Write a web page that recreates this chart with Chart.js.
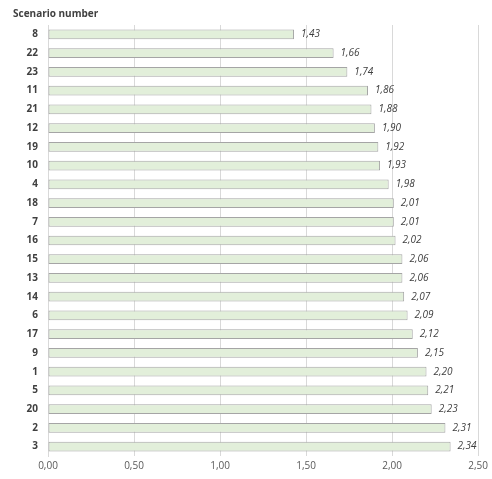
<!DOCTYPE html>
<html><head><meta charset="utf-8">
<script src="https://cdn.jsdelivr.net/npm/chart.js@4.4.0/dist/chart.umd.min.js"></script>
<style>html,body{margin:0;padding:0;background:#fff}#wrap{width:492px;height:479px;position:relative}</style>
</head><body><div id="wrap"><canvas id="c" width="492" height="479"></canvas></div>
<script>
const scenarios = ['8','22','23','11','21','12','19','10','4','18','7','16','15','13','14','6','17','9','1','5','20','2','3'];
const values = [1.43,1.66,1.74,1.86,1.88,1.90,1.92,1.93,1.98,2.01,2.01,2.02,2.06,2.06,2.07,2.09,2.12,2.15,2.20,2.21,2.23,2.31,2.34];
const axisTitle = 'Scenario number';
const xMin = 0, xMax = 2.5, xStep = 0.5;
const fmt = v => v.toFixed(2).replace('.', ',');
const FONT = "'Open Sans', 'Liberation Sans', sans-serif";

const labelPlugin = {
  id: 'labels',
  afterDatasetsDraw(chart) {
    const ctx = chart.ctx;
    const meta = chart.getDatasetMeta(0);
    ctx.save();
    ctx.font = "italic 10px " + FONT;
    ctx.fillStyle = '#404040';
    ctx.textBaseline = 'middle';
    ctx.textAlign = 'left';
    meta.data.forEach((bar, i) => {
      ctx.fillText(fmt(values[i]), bar.x + 7, bar.y);
    });
    ctx.font = "bold 10px " + FONT;
    ctx.fillStyle = '#404040';
    ctx.fillText(axisTitle, 13, 14);
    ctx.restore();
  }
};

new Chart(document.getElementById('c'), {
  type: 'bar',
  data: {
    labels: scenarios,
    datasets: [{
      data: values,
      backgroundColor: '#E2EFDA',
      borderColor: '#A5A5A5',
      borderWidth: 1,
      borderSkipped: false,
      barPercentage: 0.52,
      categoryPercentage: 1.0
    }]
  },
  options: {
    indexAxis: 'y',
    responsive: false,
    animation: false,
    layout: { padding: { left: 0, right: 12, top: 25, bottom: 0 } },
    plugins: { legend: { display: false }, tooltip: { enabled: false } },
    scales: {
      x: {
        min: xMin, max: xMax,
        ticks: { stepSize: xStep, callback: v => fmt(v), color: '#595959', font: { family: FONT, size: 10 }, padding: 4 },
        grid: { color: '#D9D9D9', drawTicks: false },
        border: { display: false },
        afterFit: s => { s.height = 23; }
      },
      y: {
        ticks: { color: '#404040', font: { family: FONT, size: 10, weight: 'bold' }, padding: 10 },
        grid: { display: false, drawTicks: false },
        border: { display: true, color: '#D9D9D9' },
        afterFit: s => { s.width = 48; }
      }
    }
  },
  plugins: [labelPlugin]
});
</script></body></html>
